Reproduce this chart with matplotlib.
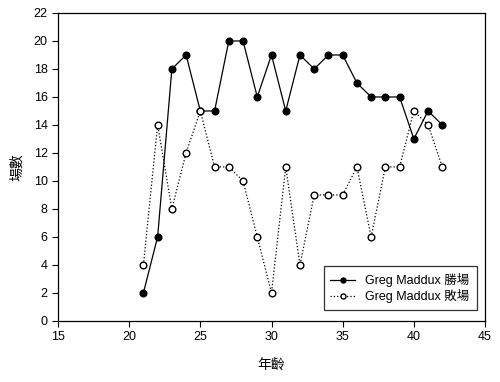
import matplotlib
matplotlib.use("Agg")
import matplotlib.pyplot as plt

plt.rcParams['font.family'] = ['Liberation Sans', 'Noto Sans CJK TC', 'DejaVu Sans']

# data
age = [21, 22, 23, 24, 25, 26, 27, 28, 29, 30, 31, 32, 33, 34, 35, 36, 37, 38, 39, 40, 41, 42]
wins = [2, 6, 18, 19, 15, 15, 20, 20, 16, 19, 15, 19, 18, 19, 19, 17, 16, 16, 16, 13, 15, 14]
losses = [4, 14, 8, 12, 15, 11, 11, 10, 6, 2, 11, 4, 9, 9, 9, 11, 6, 11, 11, 15, 14, 11]
xticks = [15, 20, 25, 30, 35, 40, 45]
yticks = list(range(0, 23, 2))

fig = plt.figure(figsize=(5, 3.82), dpi=100)
ax = fig.add_axes([0.116, 0.16, 0.854, 0.806])

ax.plot(age, wins, color='black', lw=0.9, marker='o', ms=4.8,
        mfc='black', mec='black', label='Greg Maddux 勝場')
ax.plot(age, losses, color='black', lw=0.9, ls=':', marker='o', ms=4.8,
        mfc='white', mec='black', label='Greg Maddux 敗場')

ax.set_xlim(15, 45)
ax.set_ylim(0, 22)
ax.set_xticks(xticks)
ax.set_yticks(yticks)
ax.tick_params(direction='out', length=4, width=0.8, labelsize=9,
               top=False, right=False)
for s in ax.spines.values():
    s.set_linewidth(0.9)

ax.set_xlabel('年齡', fontsize=10, labelpad=10)
ax.set_ylabel('場數', fontsize=10, labelpad=7)

leg = ax.legend(loc='lower right', fontsize=9, frameon=True, fancybox=False,
                edgecolor='black', handlelength=2.0, borderpad=0.55,
                labelspacing=0.15, markerscale=0.75,
                bbox_to_anchor=(0.995, 0.015))
leg.get_frame().set_linewidth(0.9)

fig.savefig('out.png', dpi=100)
